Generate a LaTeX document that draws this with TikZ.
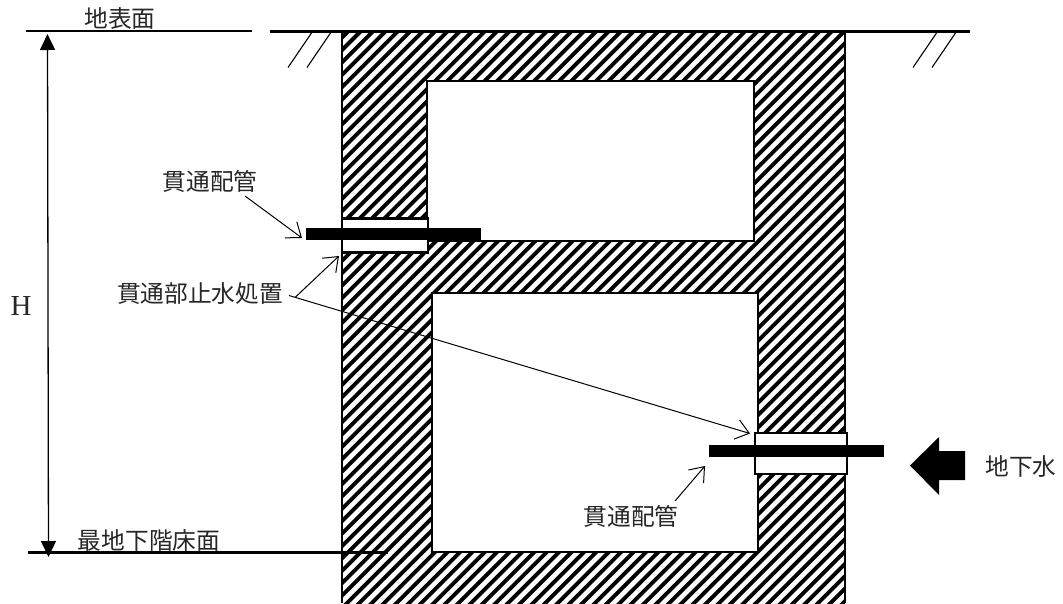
\documentclass[tikz,border=0pt]{standalone}
\usepackage{fontspec}
\setmainfont{Liberation Serif}
\newfontfamily\cjk{Noto Sans CJK JP}
\usetikzlibrary{arrows.meta}
\tikzset{
  lbl/.style={font=\cjk\fontsize{23.7}{25}\selectfont, text=black!85, inner sep=0pt},
  wallline/.style={draw=black, line width=1.6pt},
  roombox/.style={draw=black, fill=white, line width=2pt},
  sleeve/.style={draw=black, fill=white, line width=2.6pt},
  pipe/.style={fill=black, draw=none},
  leader/.style={line width=1pt, -{Straight Barb[length=13pt,width=20pt,line width=1pt]}},
  dimline/.style={line width=1.3pt, {Triangle[length=16pt,width=15pt]}-{Triangle[length=16pt,width=15pt]}},
  levelline/.style={line width=2.2pt},
  groundhatch/.style={line width=1.1pt}
}
\begin{document}
\begin{tikzpicture}[x=1pt,y=-1pt]
\useasboundingbox (0,0) rectangle (1063,603);
% hatched wall
\begin{scope}
  \clip (342,31) rectangle (845,603);
  \foreach \i in {-50,...,95}{
    \draw[line width=3.9pt] ({\i*12.4},{640}) -- ({\i*12.4+660},{-20});
  }
\end{scope}
\draw[wallline] (342,31) -- (342,603);
\draw[wallline] (845,31) -- (845,603);
\draw[roombox] (427,81) rectangle (754,241);
\draw[roombox] (432,293) rectangle (758,552);
% sleeves and pipes
\draw[sleeve] (342,218.5) rectangle (428,252.5);
\draw[sleeve] (755,433) rectangle (847,474);
\fill[pipe] (306,227.5) rectangle (481,240);
\fill[pipe] (709,445) rectangle (884,457);
% levels
\coordinate (gl1) at (26,31);
\coordinate (gl2) at (252,31);
\coordinate (gr1) at (270,31);
\coordinate (gr2) at (970,31);
\coordinate (bl1) at (28,552.5);
\coordinate (bl2) at (388,552.5);
\draw[levelline] (gl1) -- (gl2);
\draw[levelline, line width=3pt] (gr1) -- (gr2);
\draw[levelline] (bl1) -- (bl2);
% ground marks
\foreach \x in {288,307,913,932}{
  \draw[groundhatch] (\x,67.5) -- ({\x+23.5},33);
}
% dimension
\coordinate (dimtop) at (47.5,34);
\coordinate (dimbot) at (48.5,557);
\draw[dimline] (dimtop) -- (dimbot);
% labels
\node[lbl] (surface) at (120,18) {地表面};
\node[lbl] (pipeA) at (210,181) {貫通配管};
\node[lbl] (seal) at (200,294) {貫通部止水処置};
\node[lbl] (pipeB) at (631,516) {貫通配管};
\node[lbl] (water) at (1021,466) {地下水};
\node[lbl] (floor) at (149,540) {最地下階床面};
\node[inner sep=0pt, font=\fontsize{29}{30}\selectfont, text=black!85] (h) at (21,306) {H};
% leaders
\coordinate (pa0) at (245,196);
\coordinate (pa1) at (302,238);
\coordinate (s0) at (295,297.5);
\coordinate (s1) at (339,256);
\coordinate (s2) at (289,295.5);
\coordinate (s3) at (750,433.5);
\coordinate (pb0) at (675,501);
\coordinate (pb1) at (705,466);
\draw[leader] (pa0) -- (pa1);
\draw[leader] (s0) -- (s1);
\draw[leader] (s2) -- (s3);
\draw[leader] (pb0) -- (pb1);
% water arrow
\fill[black] (910,465.5) -- (939,437) -- (939,451) -- (965,451) -- (965,480) -- (939,480) -- (939,495) -- cycle;
\end{tikzpicture}
\end{document}
